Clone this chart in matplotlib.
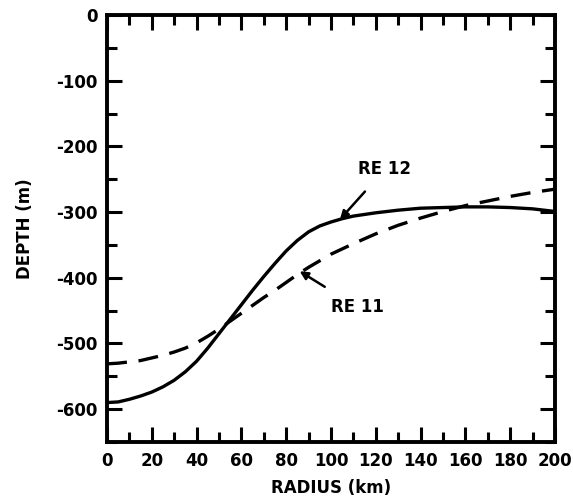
import matplotlib.pyplot as plt
from matplotlib.ticker import MultipleLocator

plt.rcParams['axes.unicode_minus'] = False

# values
radius_re12 = [0, 5, 10, 15, 20, 25, 30, 35, 40, 45, 50, 55, 60, 65, 70, 75, 80, 85, 90, 95,
               100, 105, 110, 120, 130, 140, 150, 160, 170, 180, 190, 200]
depth_re12 = [-590, -589, -585, -580, -574, -566, -556, -543, -527, -507, -485, -463, -441, -419,
              -398, -378, -359, -343, -330, -321, -315, -310, -306, -301, -297, -294, -293, -292,
              -292, -293, -295, -299]

radius_re11 = [0, 5, 10, 15, 20, 25, 30, 35, 40, 45, 50, 55, 60, 65, 70, 75, 80, 85, 90, 95,
               100, 110, 120, 130, 140, 150, 160, 170, 180, 190, 200]
depth_re11 = [-531, -530, -528, -526, -522, -518, -513, -507, -499, -489, -478, -466, -454, -442,
              -430, -419, -407, -395, -384, -374, -364, -348, -333, -320, -309, -299, -290, -283,
              -276, -270, -265]

fig = plt.figure(figsize=(5.73, 5.01), dpi=100)
ax = fig.add_axes([0.1867, 0.1178, 0.782, 0.852])

ax.plot(radius_re12, depth_re12, color='black', lw=2.4, solid_capstyle='butt')
ax.plot(radius_re11, depth_re11, color='black', lw=2.4, dashes=(6, 3.5))

ax.set_xlim(0, 200)
ax.set_ylim(-650, 0)

for s in ax.spines.values():
    s.set_linewidth(2.8)

ax.xaxis.set_major_locator(MultipleLocator(20))
ax.xaxis.set_minor_locator(MultipleLocator(10))
ax.yaxis.set_major_locator(MultipleLocator(100))
ax.yaxis.set_minor_locator(MultipleLocator(50))
ax.tick_params(which='both', direction='in', top=True, right=True, width=2.2)
ax.tick_params(which='major', length=11, pad=7, labelsize=12)
ax.tick_params(which='minor', length=7)

for lab in ax.get_xticklabels() + ax.get_yticklabels():
    lab.set_fontweight('bold')

ax.set_xlabel('RADIUS (km)', fontsize=12, fontweight='bold', labelpad=7)
ax.set_ylabel('DEPTH (m)', fontsize=12, fontweight='bold', labelpad=16)

ax.annotate('RE 12', xy=(104, -311), xytext=(124, -235), fontsize=12, fontweight='bold',
            ha='center', va='center',
            arrowprops=dict(arrowstyle='-|>', color='black', lw=1.8, shrinkA=10, shrinkB=0))
ax.annotate('RE 11', xy=(86, -390), xytext=(112, -445), fontsize=12, fontweight='bold',
            ha='center', va='center',
            arrowprops=dict(arrowstyle='-|>', color='black', lw=1.8, shrinkA=12, shrinkB=0))

fig.savefig('out.png', dpi=100)
